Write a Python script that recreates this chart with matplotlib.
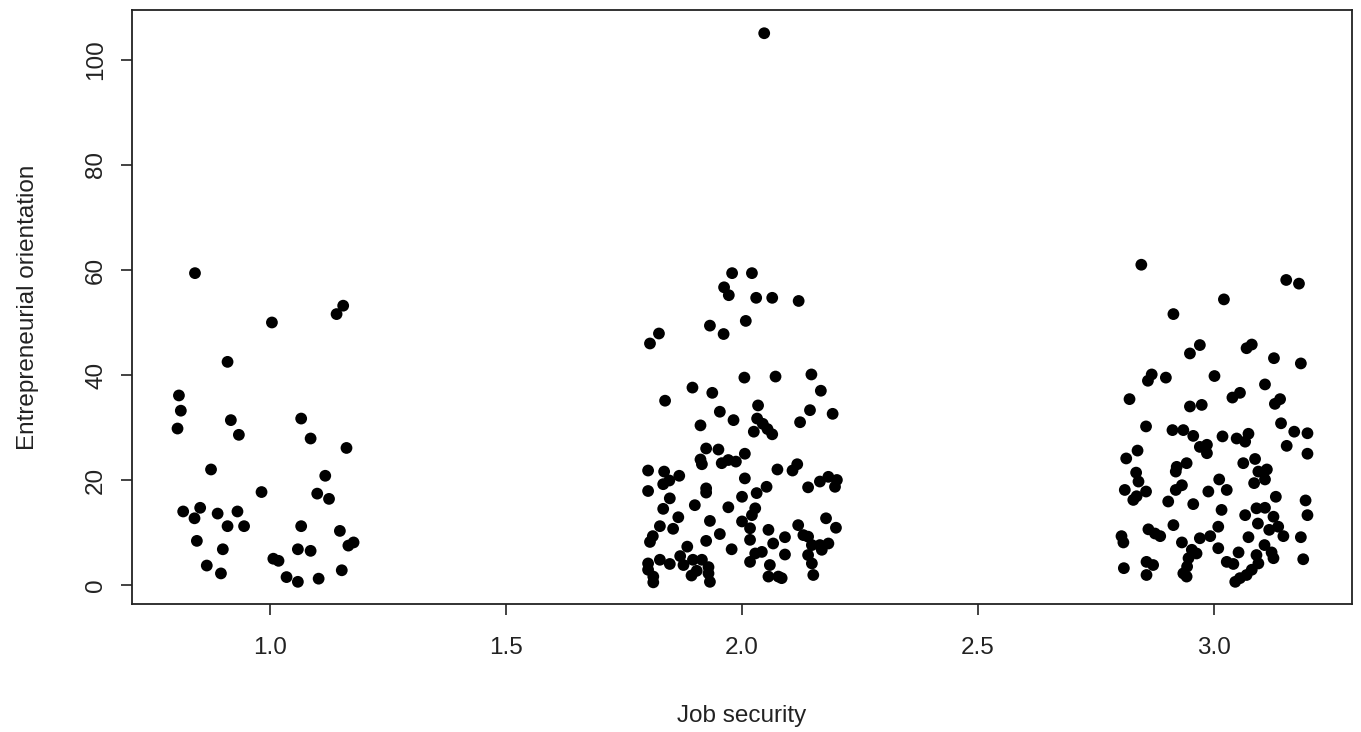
import matplotlib
matplotlib.use("Agg")
import matplotlib.pyplot as plt

plt.rcParams['font.family'] = ['Liberation Sans', 'DejaVu Sans']

# Jittered job security (x) and entrepreneurial orientation (y) values
g1_x = [0.841, 1.155, 1.141, 1.004, 0.910, 0.807, 0.811, 0.804, 0.917, 0.934,
        1.066, 1.086, 1.162, 0.875, 0.982, 1.117, 1.100, 1.125, 0.816, 0.852,
        0.840, 0.889, 0.931, 0.910, 0.945, 1.066, 1.148, 0.845, 0.900, 1.059,
        1.086, 1.166, 1.177, 1.007, 1.018, 0.866, 0.896, 1.152, 1.035, 1.059, 1.103]
g1_y = [59.4, 53.2, 51.6, 50.0, 42.5, 36.1, 33.2, 29.8, 31.4, 28.6,
        31.7, 27.9, 26.1, 22.0, 17.7, 20.8, 17.4, 16.4, 14.0, 14.7,
        12.7, 13.6, 14.0, 11.2, 11.2, 11.2, 10.3, 8.4, 6.8, 6.8,
        6.5, 7.5, 8.1, 5.0, 4.6, 3.7, 2.2, 2.8, 1.5, 0.6, 1.2]

g2_x = [2.047, 1.979, 2.021,
        1.962, 1.972, 2.030, 2.064, 2.120, 2.008, 1.932, 1.961, 1.824, 1.805,
        2.005, 2.071, 2.147, 1.895, 1.937, 2.167, 1.837, 2.034, 2.144, 2.192,
        1.953, 1.982, 2.032, 2.044, 2.054, 2.064, 2.123, 1.912, 2.025,
        1.924, 1.950, 1.912, 1.915, 1.957, 1.971, 1.987, 1.801, 1.835, 1.867,
        1.833, 1.846, 1.801, 1.924, 1.924, 1.847, 1.833, 1.900, 1.971, 1.865,
        1.826, 1.854, 1.932, 1.953, 1.924, 1.811, 1.805, 1.884, 1.978, 1.869,
        1.826, 1.847, 1.801, 1.801, 1.896, 1.915, 1.929, 1.876, 1.904, 1.812,
        1.812, 1.893, 1.929, 1.932,
        2.006, 2.075, 2.107, 2.117, 2.006, 2.140, 2.165, 2.183, 2.201, 2.197,
        2.052, 2.031, 2.000, 2.028, 2.021, 2.000, 2.178, 2.199, 2.119, 2.130,
        2.140, 2.017, 2.017, 2.056, 2.066, 2.091, 2.148, 2.165, 2.183, 2.169,
        2.028, 2.042, 2.091, 2.017, 2.140, 2.148, 2.151, 2.059, 2.056, 2.077, 2.084]
g2_y = [105.1, 59.4, 59.4,
        56.7, 55.2, 54.7, 54.7, 54.1, 50.3, 49.4, 47.8, 47.9, 46.0,
        39.5, 39.7, 40.1, 37.6, 36.6, 37.0, 35.1, 34.2, 33.3, 32.6,
        33.0, 31.4, 31.7, 30.7, 29.7, 28.7, 31.0, 30.4, 29.2,
        26.0, 25.8, 23.9, 23.0, 23.2, 23.8, 23.5, 21.8, 21.6, 20.8,
        19.2, 19.9, 17.9, 18.4, 17.6, 16.5, 14.5, 15.2, 14.8, 12.9,
        11.2, 10.7, 12.2, 9.7, 8.4, 9.3, 8.2, 7.3, 6.8, 5.5,
        4.8, 4.0, 4.1, 2.9, 4.8, 4.8, 3.4, 3.8, 2.7, 1.6,
        0.5, 1.8, 2.2, 0.6,
        25.0, 22.0, 21.8, 23.0, 20.3, 18.6, 19.7, 20.6, 20.0, 18.7,
        18.7, 17.5, 16.8, 14.6, 13.3, 12.1, 12.7, 10.9, 11.4, 9.5,
        9.2, 10.8, 8.6, 10.5, 7.9, 9.1, 7.6, 7.6, 7.9, 6.7,
        6.0, 6.3, 5.8, 4.4, 5.7, 4.1, 1.9, 3.8, 1.6, 1.6, 1.3]

g3_x = [2.846, 3.153, 3.180, 3.021, 2.914, 2.970, 2.949, 3.069, 3.080, 3.127,
        3.184, 2.868, 2.860, 2.898, 3.001, 2.821, 3.108, 3.055, 3.039, 3.140,
        3.129, 2.949, 2.974,
        2.856, 2.912, 2.935, 2.956, 2.970, 2.985, 2.985, 2.814, 2.838, 2.921,
        2.942, 2.919, 2.835, 2.840, 2.811, 2.856, 2.829, 2.836, 2.932, 2.919,
        2.988, 2.903, 2.956, 2.914, 2.804, 2.808, 2.861, 2.875, 2.886, 2.932,
        2.953, 2.970, 2.992, 2.946, 2.943, 2.935, 2.942, 2.857, 2.871, 2.857,
        2.809, 2.963,
        3.142, 3.170, 3.198, 3.154, 3.198, 3.018, 3.048, 3.073, 3.066, 3.062,
        3.087, 3.094, 3.112, 3.108, 3.085, 3.011, 3.027, 3.131, 3.194, 3.198,
        3.016, 3.066, 3.090, 3.108, 3.093, 3.126, 3.136, 3.117, 3.147, 3.009,
        3.073, 3.184, 3.009, 3.052, 3.107, 3.122, 3.126, 3.090, 3.094, 3.189,
        3.027, 3.041, 3.080, 3.069, 3.055, 3.045]
g3_y = [61.0, 58.1, 57.4, 54.4, 51.6, 45.7, 44.1, 45.1, 45.8, 43.2,
        42.2, 40.1, 38.9, 39.5, 39.8, 35.4, 38.2, 36.6, 35.7, 35.4,
        34.5, 34.0, 34.3,
        30.2, 29.5, 29.5, 28.4, 26.3, 26.7, 25.1, 24.1, 25.6, 22.5,
        23.2, 21.6, 21.4, 19.7, 18.1, 17.8, 16.2, 16.9, 19.0, 18.1,
        17.8, 15.9, 15.4, 11.4, 9.3, 8.1, 10.6, 9.8, 9.3, 8.1,
        6.7, 8.9, 9.3, 5.1, 3.5, 2.2, 1.6, 4.4, 3.8, 1.9,
        3.2, 6.0,
        30.8, 29.2, 28.9, 26.5, 25.0, 28.3, 27.9, 28.8, 27.3, 23.2,
        24.0, 21.6, 22.0, 20.1, 19.4, 20.1, 18.1, 16.8, 16.1, 13.3,
        14.3, 13.3, 14.6, 14.7, 11.7, 13.0, 11.1, 10.5, 9.3, 11.1,
        9.1, 9.1, 7.0, 6.2, 7.6, 6.2, 5.1, 5.7, 4.1, 4.9,
        4.4, 4.0, 2.9, 1.9, 1.3, 0.6]

x_vals = g1_x + g2_x + g3_x
y_vals = g1_y + g2_y + g3_y

x_ticks = [1.0, 1.5, 2.0, 2.5, 3.0]
x_tick_labels = ["1.0", "1.5", "2.0", "2.5", "3.0"]
y_ticks = [0, 20, 40, 60, 80, 100]

fig = plt.figure(figsize=(13.61, 7.32), dpi=100)
ax = fig.add_axes([0.097, 0.1749, 0.8964, 0.8114])
ax.scatter(x_vals, y_vals, s=72, c="black", edgecolors="none", zorder=3)

ax.set_xlim(0.7076, 3.2924)
ax.set_ylim(-3.62, 109.52)
ax.set_xticks(x_ticks)
ax.set_xticklabels(x_tick_labels)
ax.set_yticks(y_ticks)
ax.set_yticklabels([str(v) for v in y_ticks], rotation=90, va="center")
ax.tick_params(axis="both", direction="out", length=8, width=1.2, labelsize=17.5,
               colors="#222222")
ax.tick_params(axis="x", pad=16)
ax.tick_params(axis="y", pad=10)
for sp in ax.spines.values():
    sp.set_linewidth(1.3)
    sp.set_color("#222222")

ax.set_xlabel("Job security", fontsize=17.5, labelpad=33, color="#222222")
ax.set_ylabel("Entrepreneurial orientation", fontsize=17.5, labelpad=33, color="#222222")

fig.savefig("out.png", dpi=100)
